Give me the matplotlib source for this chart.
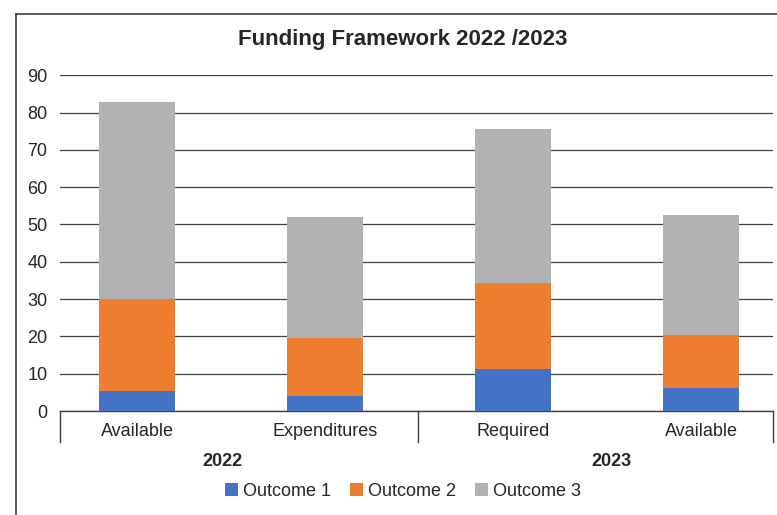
import matplotlib
matplotlib.use("Agg")
import matplotlib.pyplot as plt
from matplotlib.lines import Line2D
from matplotlib.transforms import blended_transform_factory
import numpy as np

plt.rcParams['font.family'] = ['Liberation Sans', 'DejaVu Sans']

categories = ["Available", "Expenditures", "Required", "Available"]
years = ["2022", "2023"]
outcome1 = [5.4, 3.9, 11.3, 6.3]
outcome2 = [24.5, 15.6, 23.1, 14.1]
outcome3 = [52.9, 32.6, 41.2, 32.1]
series_names = ["Outcome 1", "Outcome 2", "Outcome 3"]
colors = ["#4472C4", "#ED7D31", "#B1B2B4"]

W, H = 777, 515
fig = plt.figure(figsize=(W / 100, H / 100), dpi=100)
ax_l, ax_r, ax_t, ax_b = 60, 773, 75.3, 411
ax = fig.add_axes([ax_l / W, (H - ax_b) / H, (ax_r - ax_l) / W, (ax_b - ax_t) / H])

x = np.arange(len(categories))
width = 0.40
bottom = np.zeros(len(categories))
for vals, name, c in zip([outcome1, outcome2, outcome3], series_names, colors):
    ax.bar(x, vals, width, bottom=bottom, color=c, label=name, zorder=3,
           edgecolor='none')
    bottom += np.array(vals)

ax.set_ylim(0, 90)
ax.set_xlim(-0.4096, 3.383)
ax.set_yticks(range(0, 91, 10))
ax.tick_params(axis='y', length=0, pad=9, labelsize=13, labelcolor='#262626')
ax.set_xticks([])
for s in ['top', 'right', 'left']:
    ax.spines[s].set_visible(False)
ax.spines['bottom'].set_color('#404040')
ax.spines['bottom'].set_linewidth(1.0)
ax.yaxis.grid(True, color='#404040', linewidth=0.9, zorder=0)
ax.set_axisbelow(True)

trans = blended_transform_factory(ax.transData, ax.transAxes)
axh = ax_b - ax_t
# category labels
for xi, lab in zip(x, categories):
    ax.text(xi, -(431 - ax_b) / axh, lab, transform=trans, ha='center', va='center',
            fontsize=13, color='#262626')
# dividers
for xd in [-0.4096, 1.495, 3.383]:
    ax.add_line(Line2D([xd, xd], [0, -(441.5 - ax_b) / axh], transform=trans,
                       color='#404040', linewidth=1.0, clip_on=False))
# year labels
for xd, yr in zip([0.452, 2.524], years):
    ax.text(xd, -(462 - ax_b) / axh, yr, transform=trans, ha='center', va='center',
            fontsize=13, fontweight='bold', color='#262626')

fig.text(403 / W, (H - 40) / H, "Funding Framework 2022 /2023", ha='center', va='center',
         fontsize=16, fontweight='bold', color='#262626')

fig.legend(loc='center', bbox_to_anchor=(403 / W, (H - 491) / H), ncol=3, frameon=False,
           fontsize=13, handlelength=0.75, handleheight=0.75, handletextpad=0.3,
           columnspacing=1.0, labelcolor='#262626')

# chart border (partially visible)
fig.add_artist(Line2D([16 / W, 16 / W], [(H - 14) / H, 0], transform=fig.transFigure,
                      color='#404040', linewidth=1.2))
fig.add_artist(Line2D([16 / W, 1], [(H - 14) / H, (H - 14) / H], transform=fig.transFigure,
                      color='#404040', linewidth=1.2))

fig.savefig("out.png", dpi=100)
